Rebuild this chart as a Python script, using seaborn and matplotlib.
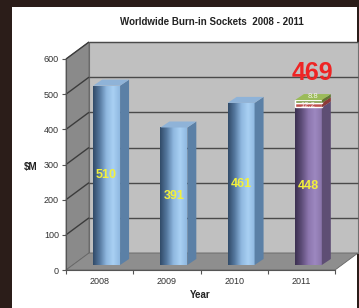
import numpy as np
import pandas as pd
import matplotlib
matplotlib.use("Agg")
import matplotlib.pyplot as plt
import seaborn as sns
from matplotlib.patches import Polygon, Rectangle
from matplotlib.collections import LineCollection
from matplotlib.colors import LinearSegmentedColormap

# data
years = ["2008", "2009", "2010", "2011"]
base_values = [510, 391, 461, 448]
cap_red = 12.2      # 2011 second segment
cap_green = 8.8     # 2011 third segment
total_2011 = 469
y_ticks = [0, 100, 200, 300, 400, 500, 600]

sns.set_style("white")
plt.rcParams["font.family"] = ["Liberation Sans", "DejaVu Sans"]

fig = plt.figure(figsize=(3.59, 3.08), dpi=100)
fig.patch.set_facecolor("#2b1d19")
fig.patches.append(Rectangle((12 / 359, 0), 345 / 359, 301 / 308, transform=fig.transFigure,
                             facecolor="white", edgecolor="none", zorder=-10))

# axes = front plane of the 3d box
ax = fig.add_axes([66 / 359, 38 / 308, 269 / 359, 211 / 308])
ax.patch.set_alpha(0)

# depth offsets in data units (px / px-per-unit)
XU, YU = 269 / 4, 211 / 600
WDX, WDY = 23 / XU, 17 / YU      # back wall
BOX, BOY = 7 / XU, 5 / YU        # bar front face offset
BDX, BDY = 9 / XU, 6 / YU        # bar depth
BW = 0.40

# front faces of the bars
df = pd.DataFrame({"year": years, "value": base_values})
sns.barplot(data=df, x="year", y="value", width=BW, color="#7ea5cc", ax=ax, zorder=2)
bars = list(ax.patches)

# walls and floor
ax.add_patch(Rectangle((-0.5 + WDX, WDY), 4, 600, facecolor="#c0c0c0", edgecolor="#707070",
                       lw=0.8, zorder=0, clip_on=False))
ax.add_patch(Polygon([(-0.5, 0), (-0.5, 600), (-0.5 + WDX, 600 + WDY), (-0.5 + WDX, WDY)],
                     facecolor="#8a8a8a", edgecolor="#666666", lw=0.6, zorder=0.2, clip_on=False))
back_grid = [[(-0.5 + WDX, v + WDY), (3.5 + WDX, v + WDY)] for v in y_ticks[1:]]
side_grid = [[(-0.5, v), (-0.5 + WDX, v + WDY)] for v in y_ticks[1:]]
ax.add_collection(LineCollection(back_grid, colors="#4a4a4a", linewidths=1.0, zorder=0.5,
                                 clip_on=False, snap=True))
ax.add_collection(LineCollection(side_grid, colors="#3c3c3c", linewidths=1.0, zorder=0.5, clip_on=False))
ax.add_patch(Polygon([(-0.5, 0), (3.5, 0), (3.5 + WDX, WDY), (-0.5 + WDX, WDY)],
                     facecolor="#8e8e8e", edgecolor="#666666", lw=0.6, zorder=0.6, clip_on=False))

blue = LinearSegmentedColormap.from_list("b", ["#314b69", "#5679a0", "#8fb8e0", "#a9d0f3", "#90b9e1"])
purple = LinearSegmentedColormap.from_list("p", ["#3c3050", "#5f4e7a", "#8c76ae", "#9d88c0", "#8a75aa"])
grad = np.linspace(0, 1, 64)[np.newaxis, :]


def box3d(x0, bottom, height, side, top, z):
    x1 = x0 + BW
    t = bottom + height
    ax.add_patch(Polygon([(x1, bottom), (x1 + BDX, bottom + BDY), (x1 + BDX, t + BDY), (x1, t)],
                         facecolor=side, edgecolor="none", zorder=z, clip_on=False))
    ax.add_patch(Polygon([(x0, t), (x1, t), (x1 + BDX, t + BDY), (x0 + BDX, t + BDY)],
                         facecolor=top, edgecolor="none", zorder=z, clip_on=False))


for i, p in enumerate(bars):
    val = base_values[i]
    p.set_x(p.get_x() + BOX)
    p.set_y(BOY)
    x0 = p.get_x()
    cm = purple if i == 3 else blue
    p.set_facecolor(cm(0.6))
    p.set_edgecolor("none")
    im = ax.imshow(grad, extent=(x0, x0 + BW, BOY, BOY + val), cmap=cm, aspect="auto", zorder=2.1)
    im.set_clip_path(p)
    side = "#5b80a6" if i < 3 else "#5e4e74"
    topc = "#8fb3d8" if i < 3 else "#8a77a8"
    box3d(x0, BOY, val, side, topc, 2.2)
    ax.text(x0 + BW / 2, BOY + val / 2, str(val), ha="center", va="center",
            color="#f2f03c", fontsize=9, fontweight="bold", zorder=5)

# stacked caps on 2011
x0 = bars[3].get_x()
b1 = BOY + base_values[3]
ax.bar([x0], [cap_red], bottom=b1, width=BW, align="edge", color="#c0504d", zorder=2.3)
box3d(x0, b1, cap_red, "#8c3a38", "#c0504d", 2.3)
b2 = b1 + cap_red
ax.bar([x0], [cap_green], bottom=b2, width=BW, align="edge", color="#7d9a46", zorder=2.4)
box3d(x0, b2, cap_green, "#5f7734", "#9bbb59", 2.4)
ax.text(x0 + BW / 2, b1 + cap_red / 2, f"{cap_red}", ha="center", va="center",
        color="#f4e8e8", fontsize=5.5, zorder=5)
ax.text(x0 + BW / 2 + BDX / 2, b2 + cap_green + BDY / 2 + 2, f"{cap_green}", ha="center", va="center",
        color="#f4f4ec", fontsize=5.5, zorder=5)
ax.text(x0 + BW / 2 + 0.06, total_2011 + 90, str(total_2011), ha="center", va="center",
        color="#ee2424", fontsize=18, fontweight="bold", zorder=5)

ax.set_xlim(-0.5, 3.5)
ax.set_ylim(0, 600)
ax.set_yticks(y_ticks)
ax.set_xticks(range(4))
ax.set_xticklabels(years)
ax.set_xticks([-0.5, 0.5, 1.5, 2.5, 3.5], minor=True)
ax.tick_params(axis="x", which="major", length=0, labelsize=6.5, labelcolor="#333333", pad=5)
ax.tick_params(axis="x", which="minor", length=3, color="#555555", width=0.8, direction="out", bottom=True)
ax.tick_params(axis="y", length=3, color="#555555", width=0.8, direction="out", left=True,
               labelsize=6.5, labelcolor="#333333", pad=2)
for s in ["top", "right"]:
    ax.spines[s].set_visible(False)
for s in ["left", "bottom"]:
    ax.spines[s].set_color("#555555")
    ax.spines[s].set_linewidth(0.8)
    ax.spines[s].set_zorder(1)

ax.set_xlabel("Year", fontsize=7, fontweight="bold", color="#222222", labelpad=3)
ax.set_ylabel("$M", fontsize=7, fontweight="bold", color="#222222", rotation=0, va="center")
ax.yaxis.set_label_coords(-0.13, 0.49)
fig.text(212 / 359, 1 - 22 / 308, "Worldwide Burn-in Sockets  2008 - 2011", ha="center", va="center",
         fontsize=7, fontweight="bold", color="#222222")

fig.savefig("out.png", dpi=100)
